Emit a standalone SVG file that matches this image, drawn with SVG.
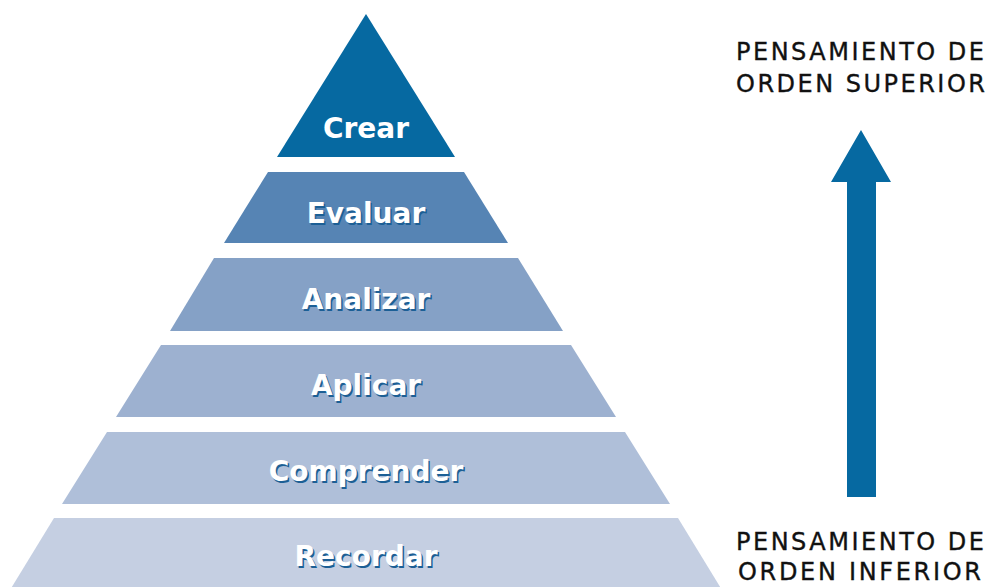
<svg xmlns="http://www.w3.org/2000/svg" width="988" height="587" viewBox="0 0 988 587">
<style>
.lbl{font-family:"DejaVu Sans",sans-serif;font-weight:bold;font-size:28px;fill:#ffffff;text-anchor:middle}
.sh{font-family:"DejaVu Sans",sans-serif;font-weight:bold;font-size:28px;fill:#1c5f95;text-anchor:middle}
.side{font-family:"DejaVu Sans",sans-serif;font-size:24px;fill:#111111;stroke:#111111;stroke-width:0.35}
</style>
<rect width="988" height="587" fill="#ffffff"/>
<g id="crear">
<polygon points="366,14 455,157 277,157" fill="#0669a1"/>
<text class="lbl" x="366" y="138">Crear</text>
</g>
<g id="evaluar">
<polygon points="268,172 464,172 508,243 224,243" fill="#5684b4"/>
<text class="sh" x="367.5" y="224.5">Evaluar</text>
<text class="lbl" x="366" y="223">Evaluar</text>
</g>
<g id="analizar">
<polygon points="214,258 518,258 563,331 170,331" fill="#85a1c6"/>
<text class="sh" x="367.5" y="310.5">Analizar</text>
<text class="lbl" x="366" y="309">Analizar</text>
</g>
<g id="aplicar">
<polygon points="161,345 571,345 616,417 116,417" fill="#9db1d0"/>
<text class="sh" x="367.5" y="396.5">Aplicar</text>
<text class="lbl" x="366" y="395">Aplicar</text>
</g>
<g id="comprender">
<polygon points="107,432 625,432 670,504 62,504" fill="#afbfd9"/>
<text class="sh" x="367.5" y="482.5">Comprender</text>
<text class="lbl" x="366" y="481">Comprender</text>
</g>
<g id="recordar">
<polygon points="54,518 678,518 722,590 10,590" fill="#c5cfe2"/>
<text class="sh" x="367.5" y="567.5">Recordar</text>
<text class="lbl" x="366" y="566">Recordar</text>
</g>
<g id="connectors">
<polygon points="861,130 891,182 876,182 876,497 847,497 847,182 831,182" fill="#0669a1"/>
</g>
<g id="labels">
<text class="side" x="736" y="60" textLength="248" lengthAdjust="spacing">PENSAMIENTO DE</text>
<text class="side" x="736" y="92" textLength="249" lengthAdjust="spacing">ORDEN SUPERIOR</text>
<text class="side" x="736" y="550" textLength="248" lengthAdjust="spacing">PENSAMIENTO DE</text>
<text class="side" x="738" y="580" textLength="243" lengthAdjust="spacing">ORDEN INFERIOR</text>
</g>
</svg>
